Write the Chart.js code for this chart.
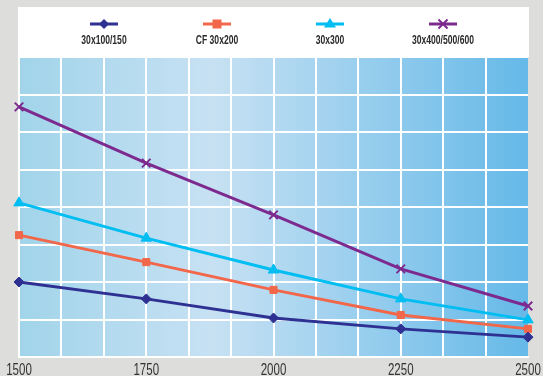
<!DOCTYPE html>
<html>
<head>
<meta charset="utf-8">
<script src="https://cdn.jsdelivr.net/npm/chart.js@4/dist/chart.umd.min.js"></script>
<style>
  html, body { margin: 0; padding: 0; background: #dddddc; }
  canvas { display: block; }
</style>
</head>
<body>
<canvas id="c" width="543" height="376"></canvas>
<script>
// Section sizes along the x axis
const categories = [1500, 1750, 2000, 2250, 2500];
const tickLabels = ['1500', '1750', '2000', '2250', '2500'];
const seriesNames = ['30x100/150', 'CF 30x200', '30x300', '30x400/500/600'];

// One value per category for each series
const s30x100 = [2.00, 1.55, 1.04, 0.75, 0.53];
const sCF30x200 = [3.25, 2.53, 1.79, 1.12, 0.75];
const s30x300 = [4.11, 3.17, 2.32, 1.55, 0.99];
const s30x400 = [6.67, 5.17, 3.79, 2.35, 1.36];

const seriesValues = [s30x100, sCF30x200, s30x300, s30x400];
const seriesColors = ['#2e3192', '#f26649', '#00bdf2', '#7d2a8f'];
const seriesPoints = ['rectRot', 'rect', 'triangle', 'crossRot'];
const seriesRadius = [5, 5, 6, 6];

const textFont = '"Liberation Sans", Arial, sans-serif';

const datasets = seriesNames.map((name, i) => ({
  label: name,
  data: categories.map((x, j) => ({ x: x, y: seriesValues[i][j] })),
  borderColor: seriesColors[i],
  backgroundColor: seriesColors[i],
  borderWidth: 3,
  pointStyle: seriesPoints[i],
  pointRadius: seriesRadius[i],
  pointBorderWidth: seriesPoints[i] === 'crossRot' ? 2 : 1,
  pointHoverRadius: seriesRadius[i],
  clip: false,
  tension: 0
}));

// Draws text squeezed horizontally to a condensed look
function narrowText(ctx, text, x, y, font, color, squeeze) {
  ctx.save();
  ctx.font = font;
  ctx.fillStyle = color;
  ctx.textAlign = 'center';
  ctx.textBaseline = 'middle';
  ctx.translate(x, y);
  ctx.scale(squeeze, 1);
  ctx.fillText(text, 0, 0);
  ctx.restore();
}

// Grey page, white legend strip and the blue gradient plot panel
const panelPlugin = {
  id: 'panel',
  beforeDraw(chart) {
    const { ctx, chartArea: a, width, height } = chart;
    ctx.save();
    ctx.fillStyle = '#dddddc';
    ctx.fillRect(0, 0, width, height);
    ctx.fillStyle = '#ffffff';
    ctx.fillRect(a.left - 1, 7, a.right - a.left + 2, a.top - 7);
    const g = ctx.createLinearGradient(a.left, 0, a.right, 0);
    g.addColorStop(0, '#a1d4ea');
    g.addColorStop(0.38, '#c7e1f3');
    g.addColorStop(1, '#65b9e8');
    ctx.fillStyle = g;
    ctx.fillRect(a.left, a.top, a.right - a.left, a.bottom - a.top);
    ctx.restore();
  }
};

function drawMarker(ctx, style, x, y, r, color) {
  ctx.save();
  ctx.fillStyle = color;
  ctx.strokeStyle = color;
  ctx.beginPath();
  if (style === 'rectRot') {
    ctx.moveTo(x, y - r); ctx.lineTo(x + r, y); ctx.lineTo(x, y + r); ctx.lineTo(x - r, y);
    ctx.closePath(); ctx.fill();
  } else if (style === 'rect') {
    const s = r * 0.9;
    ctx.fillRect(x - s, y - s, 2 * s, 2 * s);
  } else if (style === 'triangle') {
    ctx.moveTo(x, y - r); ctx.lineTo(x + r, y + r * 0.6); ctx.lineTo(x - r, y + r * 0.6);
    ctx.closePath(); ctx.fill();
  } else {
    ctx.lineWidth = 2;
    const d = r * 0.75;
    ctx.moveTo(x - d, y - d); ctx.lineTo(x + d, y + d);
    ctx.moveTo(x + d, y - d); ctx.lineTo(x - d, y + d);
    ctx.stroke();
  }
  ctx.restore();
}

// Legend: line sample with marker above each series name
const legendPlugin = {
  id: 'topLegend',
  afterDraw(chart) {
    const { ctx, chartArea: a } = chart;
    const mid = (a.left + a.right) / 2;
    const gap = 113;
    ctx.save();
    chart.data.datasets.forEach((ds, i) => {
      const cx = mid + (i - 1.5) * gap;
      const ly = 24;
      ctx.strokeStyle = ds.borderColor;
      ctx.lineWidth = 3;
      ctx.beginPath();
      ctx.moveTo(cx - 14, ly);
      ctx.lineTo(cx + 14, ly);
      ctx.stroke();
      drawMarker(ctx, ds.pointStyle, cx, ly, ds.pointRadius, ds.borderColor);
      narrowText(ctx, ds.label, cx, 40, 'bold 13px ' + textFont, '#2a2a2a', 0.66);
    });
    ctx.restore();
  }
};

// Category labels under the x axis, placed by the x scale
const xLabelPlugin = {
  id: 'xLabels',
  afterDraw(chart) {
    const { ctx } = chart;
    const xs = chart.scales.x;
    const a = chart.chartArea;
    categories.forEach((v, k) => {
      narrowText(ctx, tickLabels[k], xs.getPixelForValue(v), a.bottom + 14, '16px ' + textFont, '#333333', 0.72);
    });
  }
};

const xMin = categories[0];
const xMax = categories[categories.length - 1];

new Chart(document.getElementById('c'), {
  type: 'line',
  data: { datasets: datasets },
  plugins: [panelPlugin, legendPlugin, xLabelPlugin],
  options: {
    responsive: false,
    animation: false,
    layout: { padding: { top: 57, left: 19, right: 15, bottom: 19 } },
    plugins: { legend: { display: false }, tooltip: { enabled: false } },
    scales: {
      x: {
        type: 'linear',
        min: xMin,
        max: xMax,
        afterBuildTicks(scale) {
          const n = 12;
          scale.ticks = Array.from({ length: n + 1 }, (_, i) => ({ value: xMin + i * (xMax - xMin) / n }));
        },
        ticks: { display: false },
        grid: {
          color: (c) => (c.index === 12 ? 'rgba(0,0,0,0)' : '#ffffff'),
          lineWidth: 2,
          drawTicks: false
        },
        border: { display: true, color: '#ffffff', width: 2 }
      },
      y: {
        min: 0,
        max: 8,
        ticks: { stepSize: 1, display: false },
        grid: { color: '#ffffff', lineWidth: 2, drawTicks: false },
        border: { display: true, color: '#ffffff', width: 2 }
      }
    }
  }
});
</script>
</body>
</html>
